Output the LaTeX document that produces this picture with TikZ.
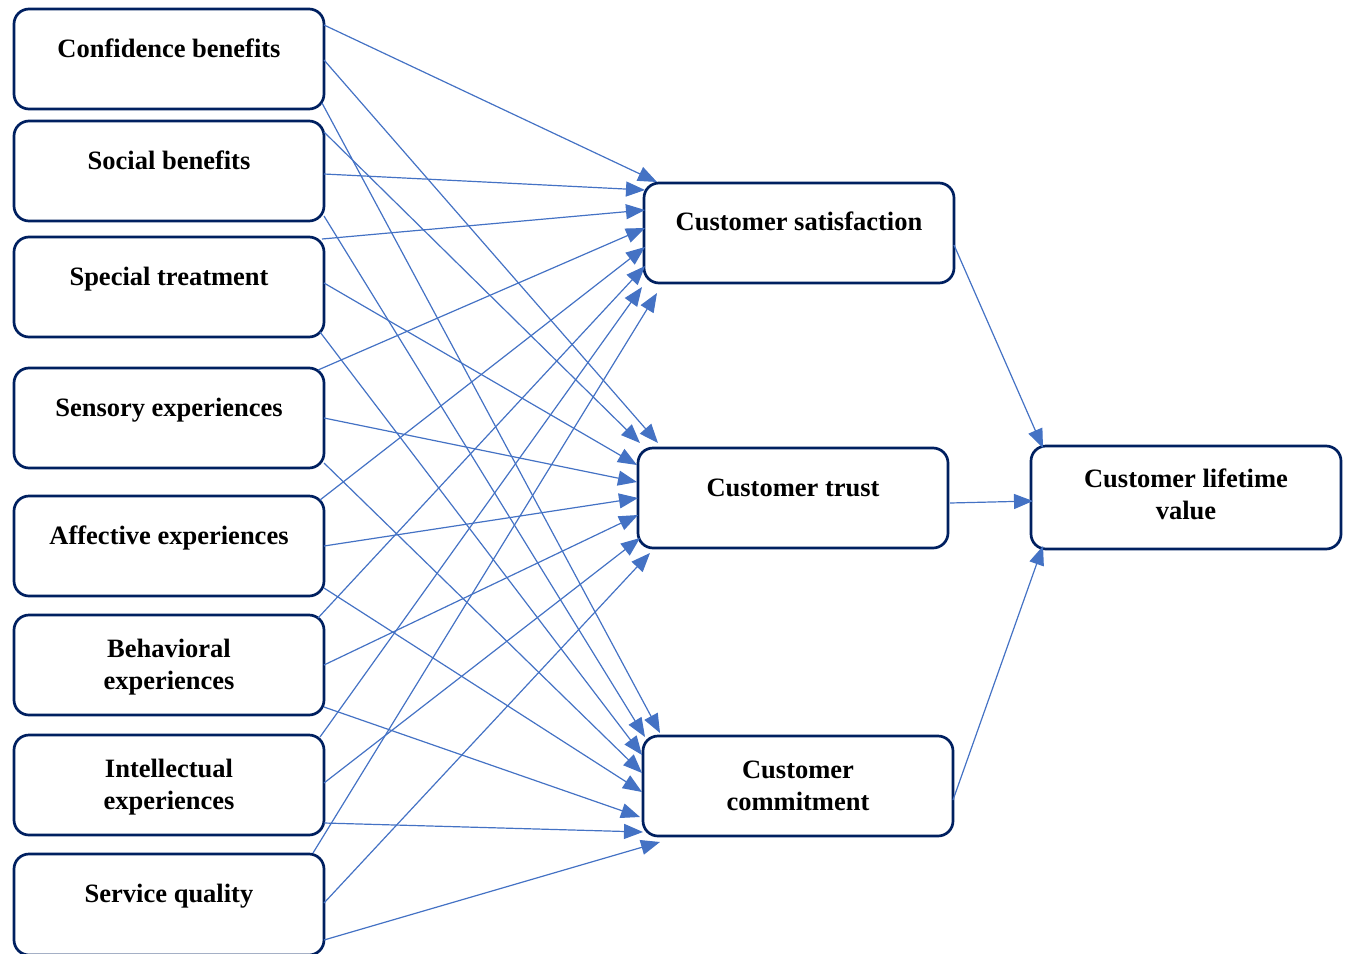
\documentclass[tikz,border=0pt]{standalone}
\usepackage{fontspec}
\setmainfont{Liberation Serif}
\usetikzlibrary{arrows.meta}
\definecolor{boxline}{RGB}{0,32,96}
\definecolor{arrowblue}{RGB}{68,114,196}
\begin{document}
\begin{tikzpicture}[x=1pt,y=1pt,
  box/.style={draw=boxline, line width=2.7pt, rounded corners=15pt, minimum width=310pt, minimum height=100pt, inner sep=0pt, outer sep=0pt, fill=white},
  lbl/.style={font=\fontsize{26.5}{32}\selectfont\bfseries, align=center, anchor=base, inner sep=0pt},
  link/.style={draw=arrowblue, line width=1.2pt, -{Triangle[length=19pt,width=15pt]}},
]
\useasboundingbox (0,0) rectangle (1346,-953);
% boxes
\node[box] (cb) at (169,-59) {};
\node[box] (sb) at (169,-171) {};
\node[box] (st) at (169,-287) {};
\node[box] (se) at (169,-418) {};
\node[box] (ae) at (169,-546) {};
\node[box] (be) at (169,-665) {};
\node[box] (ie) at (169,-785) {};
\node[box, minimum height=101pt] (sq) at (169,-904.5) {};
\node[box] (cs) at (799,-233) {};
\node[box] (ct) at (793,-498) {};
\node[box] (cc) at (798,-786) {};
\node[box, minimum height=103pt] (clv) at (1186,-497.5) {};
% labels
\node[lbl] (tcb) at (169,-57) {Confidence benefits};
\node[lbl] (tsb) at (169,-169) {Social benefits};
\node[lbl] (tst) at (169,-285) {Special treatment};
\node[lbl] (tse) at (169,-416) {Sensory experiences};
\node[lbl] (tae) at (169,-544) {Affective experiences};
\node[lbl] (tbe) at (169,-689) {Behavioral\\experiences};
\node[lbl] (tie) at (169,-809) {Intellectual\\experiences};
\node[lbl] (tsq) at (169,-902) {Service quality};
\node[lbl] (tcs) at (799,-230) {Customer satisfaction};
\node[lbl] (tct) at (793,-496) {Customer trust};
\node[lbl] (tcc) at (798,-810) {Customer\\commitment};
\node[lbl] (tclv) at (1186,-519) {Customer lifetime\\value};
% connectors
\draw[link] ([shift={(0,-16)}]cb.north east) -- ([shift={(13,1)}]cs.north west);
\draw[link] ([shift={(0,-51)}]cb.north east) -- ([shift={(20,5)}]ct.north west);
\draw[link] ([shift={(-2,-94)}]cb.north east) -- ([shift={(17,3)}]cc.north west);
\draw[link] ([shift={(0,-53)}]sb.north east) -- ([shift={(1,-7)}]cs.north west);
\draw[link] ([shift={(0,-11)}]sb.north east) -- ([shift={(2,5)}]ct.north west);
\draw[link] ([shift={(0,-95)}]sb.north east) -- ([shift={(2,-1)}]cc.north west);
\draw[link] ([shift={(-2,-2)}]st.north east) -- ([shift={(1,-27)}]cs.north west);
\draw[link] ([shift={(0,-46)}]st.north east) -- ([shift={(-1,-17)}]ct.north west);
\draw[link] ([shift={(-4,-95)}]st.north east) -- ([shift={(-1,-19)}]cc.north west);
\draw[link] ([shift={(-6,-2)}]se.north east) -- ([shift={(1,-45)}]cs.north west);
\draw[link] ([shift={(0,-50)}]se.north east) -- ([shift={(-1,-34)}]ct.north west);
\draw[link] ([shift={(0,-95)}]se.north east) -- ([shift={(-1,-37)}]cc.north west);
\draw[link] ([shift={(-4,-4)}]ae.north east) -- ([shift={(1,-64)}]cs.north west);
\draw[link] ([shift={(0,-50)}]ae.north east) -- ([shift={(0,-50)}]ct.north west);
\draw[link] ([shift={(0,-92)}]ae.north east) -- ([shift={(-1,-56)}]cc.north west);
\draw[link] ([shift={(-6,-3)}]be.north east) -- ([shift={(1,-83)}]cs.north west);
\draw[link] ([shift={(0,-50)}]be.north east) -- ([shift={(0,-67)}]ct.north west);
\draw[link] ([shift={(0,-92)}]be.north east) -- ([shift={(-3,-81)}]cc.north west);
\draw[link] ([shift={(-4,-2)}]ie.north east) -- ([shift={(-2,-104)}]cs.north west);
\draw[link] ([shift={(0,-48)}]ie.north east) -- ([shift={(2,-90)}]ct.north west);
\draw[link] ([shift={(0,-88)}]ie.north east) -- ([shift={(0,-96)}]cc.north west);
\draw[link] ([shift={(-11,1)}]sq.north east) -- ([shift={(13,-110)}]cs.north west);
\draw[link] ([shift={(0,-49)}]sq.north east) -- ([shift={(12,-105)}]ct.north west);
\draw[link] ([shift={(0,-86)}]sq.north east) -- ([shift={(17,-106)}]cc.north west);
\draw[link] ([shift={(0,-62)}]cs.north east) -- ([shift={(12,-2)}]clv.north west);
\draw[link] ([shift={(2,-55)}]ct.north east) -- ([shift={(2,-55)}]clv.north west);
\draw[link] ([shift={(0,-64)}]cc.north east) -- ([shift={(12,-100)}]clv.north west);
\end{tikzpicture}
\end{document}
